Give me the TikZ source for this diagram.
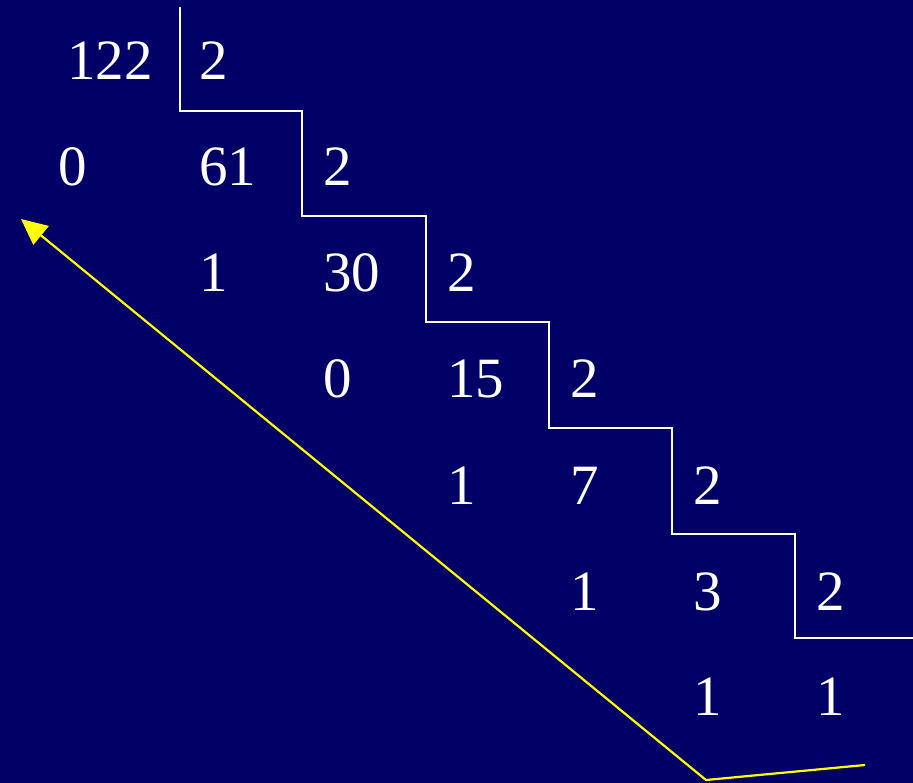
\documentclass[tikz,border=0pt]{standalone}
\usepackage{fontspec}
\setmainfont{Liberation Serif}
\usetikzlibrary{arrows.meta}
\definecolor{bgnavy}{RGB}{0,0,102}
\definecolor{arrowyellow}{RGB}{255,255,0}
\begin{document}
\begin{tikzpicture}[x=1pt,y=-1pt,
  num/.style={text=white,inner sep=0pt,anchor=base west,font=\fontsize{57}{60}\selectfont},
  stair/.style={draw=white,line width=2.8pt},
  yarrow/.style={draw=arrowyellow,line width=2.2pt,-{Triangle[length=26pt,width=24pt]}}]
\fill[bgnavy] (0,0) rectangle (913,783);
\useasboundingbox (0,0) rectangle (913,783);
% columns
\def\ca{199}\def\cb{323}\def\cc{447}\def\cd{570}\def\ce{693}\def\cf{816}
% row 1
\node[num] (r1a) at (67,80) {122};
\node[num] (r1b) at (\ca,80) {2};
% row 2
\node[num] (r2a) at (58,186) {0};
\node[num] (r2b) at (\ca,186) {61};
\node[num] (r2c) at (\cb,186) {2};
% row 3
\node[num] (r3a) at (\ca,292) {1};
\node[num] (r3b) at (\cb,292) {30};
\node[num] (r3c) at (\cc,292) {2};
% row 4
\node[num] (r4a) at (\cb,398) {0};
\node[num] (r4b) at (\cc,398) {15};
\node[num] (r4c) at (\cd,398) {2};
% row 5
\node[num] (r5a) at (\cc,504) {1};
\node[num] (r5b) at (\cd,504) {7};
\node[num] (r5c) at (\ce,504) {2};
% row 6
\node[num] (r6a) at (\cd,610) {1};
\node[num] (r6b) at (\ce,610) {3};
\node[num] (r6c) at (\cf,610) {2};
% row 7
\node[num] (r7a) at (\ce,715) {1};
\node[num] (r7b) at (\cf,715) {1};
% staircase
\draw[stair] (180,7) -- (180,111) -- (302,111) -- (302,216) -- (426,216) -- (426,322)
  -- (549,322) -- (549,428) -- (672,428) -- (672,534) -- (795,534) -- (795,638) -- (913,638);
% yellow arrow
\coordinate (ystart) at (865,765);
\coordinate (ybend) at (706,780);
\coordinate (ytip) at (21,219);
\draw[yarrow] (ystart) -- (ybend) -- (ytip);
\end{tikzpicture}
\end{document}
